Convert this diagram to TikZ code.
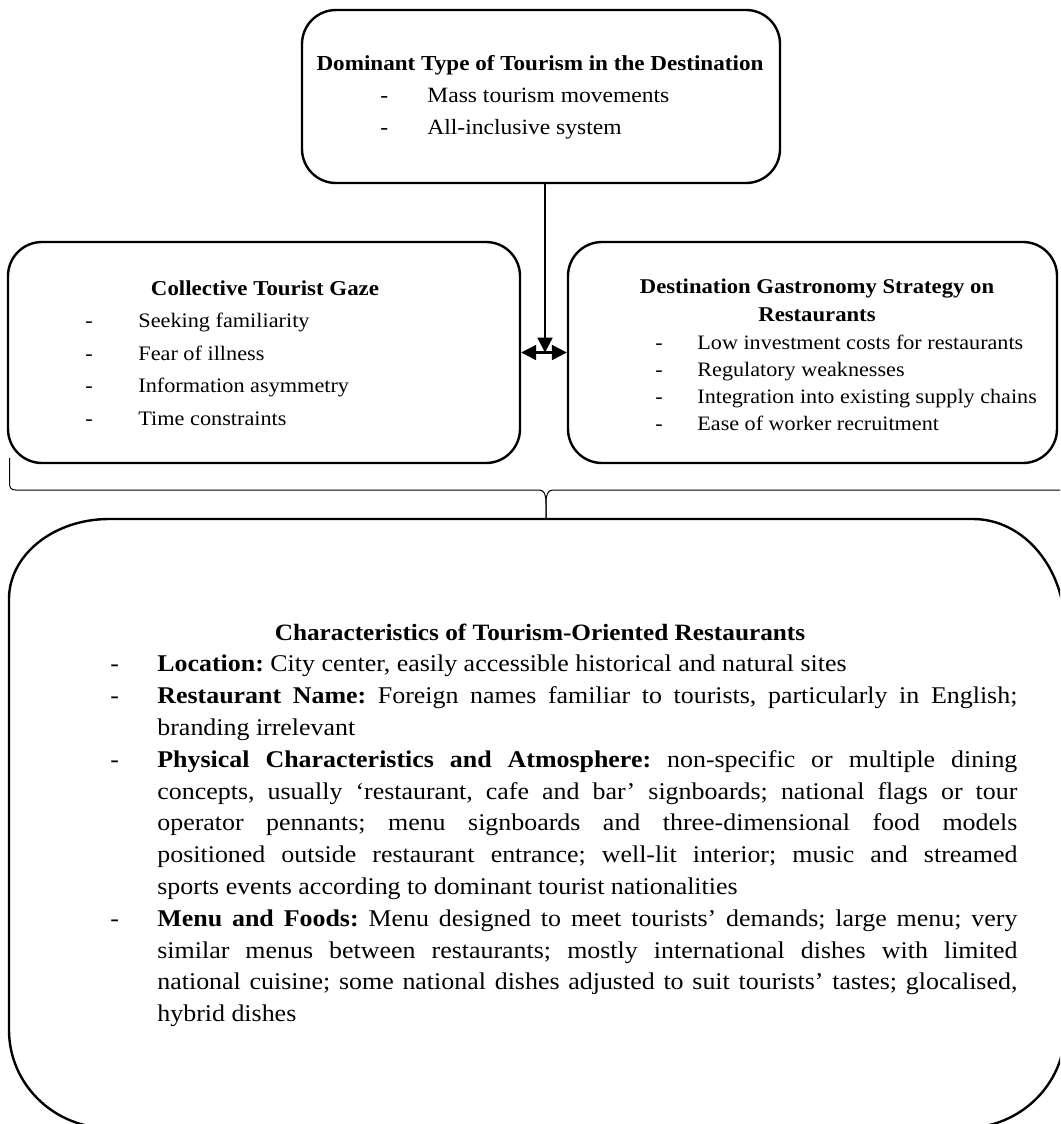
\documentclass[tikz,border=0pt]{standalone}
\usepackage{fontspec}
\setmainfont{Liberation Serif}[FakeStretch=1.08]
\usetikzlibrary{arrows.meta}
\frenchspacing
\newcommand{\fsbody}{\fontsize{12pt}{14pt}\selectfont}
\newcommand{\fsbtitle}{\fontsize{11.7pt}{14pt}\selectfont\bfseries}
\newcommand{\fsttitle}{\fontsize{10.7pt}{13pt}\selectfont\bfseries}
\newcommand{\fstitem}{\fontsize{10.9pt}{13pt}\selectfont}
\newcommand{\fsltitle}{\fontsize{10.6pt}{13pt}\selectfont\bfseries}
\newcommand{\fslitem}{\fontsize{10.3pt}{13pt}\selectfont}
\newcommand{\fsrtitle}{\fontsize{10.5pt}{13pt}\selectfont\bfseries}
\newcommand{\fsritem}{\fontsize{10.25pt}{13pt}\selectfont}
\newcommand{\dashA}[1]{\makebox[23.5pt][l]{-}#1}
\newcommand{\dashB}[1]{\makebox[26.5pt][l]{-}#1}
\newcommand{\dashC}[1]{\makebox[21pt][l]{-}#1}
\newcommand{\jline}[1]{\makebox[430pt][s]{#1}}
\begin{document}
\begin{tikzpicture}[x=0.5pt,y=-0.5pt,
  box/.style={draw, line width=1.2pt, rounded corners=17pt, inner sep=0},
  ln/.style={anchor=base west, inner sep=0},
  ttl/.style={anchor=base, inner sep=0},
  arr/.style={line width=1.2pt, -{Triangle[length=7.5pt,width=7.5pt]}},
  dbl/.style={line width=1.2pt, {Triangle[length=7.5pt,width=7.5pt]}-{Triangle[length=7.5pt,width=7.5pt]}},
  bracestyle/.style={line width=0.5pt},
  bigbox/.style={line width=1.2pt},
]
\useasboundingbox (0,0) rectangle (1060,1124);
\clip (0,0) rectangle (1060,1124);

% boxes
\node[box, minimum width=239pt, minimum height=86.5pt] (top) at (541,96.5) {};
\node[box, minimum width=256pt, minimum height=110.5pt] (gaze) at (264,352.5) {};
\node[box, minimum width=244.5pt, minimum height=110.5pt] (strat) at (812.5,352.5) {};

% bottom box
\draw[bigbox] (109,519) -- (973,519)
  .. controls (1023.8,519) and (1065,568.2) .. (1065,629)
  -- (1065,1030)
  .. controls (1065,1084.1) and (1020.2,1128) .. (965,1128)
  -- (109,1128)
  .. controls (53.8,1128) and (9,1084.1) .. (9,1030)
  -- (9,599)
  .. controls (9,554.8) and (53.8,519) .. (109,519) -- cycle;
\coordinate (btop) at (546,519);

% brace
\draw[bracestyle] (9.5,458) -- (9.5,483) .. controls (9.5,488) and (11,490) .. (16,490)
  -- (539,490) .. controls (544,490) and (546,494) .. (546,503) -- (btop);
\draw[bracestyle] (btop) -- (546,503) .. controls (546,494) and (548,490) .. (553,490)
  -- (1076,490) .. controls (1081,490) and (1082.5,488) .. (1082.5,483) -- (1082.5,458);

% arrows
\coordinate (mid) at (545,352.5);
\draw[arr] (top.south -| mid) -- (mid);
\draw[dbl] (gaze.east) -- (strat.west);

% top box text
\node[ttl, font=\fsttitle] (t0) at (540,70) {Dominant Type of Tourism in the Destination};
\node[ln, font=\fstitem] (t1) at (380,102) {\dashA{Mass tourism movements}};
\node[ln, font=\fstitem] (t2) at (380,134) {\dashA{All-inclusive system}};

% left box text
\node[ttl, font=\fsltitle] (g0) at (265,295) {Collective Tourist Gaze};
\node[ln, font=\fslitem] (g1) at (85,327.5) {\dashB{Seeking familiarity}};
\node[ln, font=\fslitem] (g2) at (85,360) {\dashB{Fear of illness}};
\node[ln, font=\fslitem] (g3) at (85,392.5) {\dashB{Information asymmetry}};
\node[ln, font=\fslitem] (g4) at (85,425) {\dashB{Time constraints}};

% right box text
\node[ttl, font=\fsrtitle] (s0) at (817,293) {Destination Gastronomy Strategy on};
\node[ttl, font=\fsrtitle] (s0b) at (817,321) {Restaurants};
\node[ln, font=\fsritem] (s1) at (655,349) {\dashC{Low investment costs for restaurants}};
\node[ln, font=\fsritem] (s2) at (655,376) {\dashC{Regulatory weaknesses}};
\node[ln, font=\fsritem] (s3) at (655,403) {\dashC{Integration into existing supply chains}};
\node[ln, font=\fsritem] (s4) at (655,430) {\dashC{Ease of worker recruitment}};

% bottom box text
\node[ttl, font=\fsbtitle] (b0) at (540,640) {Characteristics of Tourism-Oriented Restaurants};
\begin{scope}[every node/.append style={font=\fsbody}]
\node[ln] (b1) at (110,671.8) {\dashA{\textbf{Location:} City center, easily accessible historical and natural sites}};
\node[ln] (b2) at (110,703.6) {\dashA{\jline{\textbf{Restaurant Name:} Foreign names familiar to tourists, particularly in English;}}};
\node[ln] (b3) at (157,735.4) {branding irrelevant};
\node[ln] (b4) at (110,767.2) {\dashA{\jline{\textbf{Physical Characteristics and Atmosphere:} non-specific or multiple dining}}};
\node[ln] (b5) at (157,799) {\jline{concepts, usually ‘restaurant, cafe and bar’ signboards; national flags or tour}};
\node[ln] (b6) at (157,830.8) {\jline{operator pennants; menu signboards and three-dimensional food models}};
\node[ln] (b7) at (157,862.6) {\jline{positioned outside restaurant entrance; well-lit interior; music and streamed}};
\node[ln] (b8) at (157,894.4) {sports events according to dominant tourist nationalities};
\node[ln] (b9) at (110,926.2) {\dashA{\jline{\textbf{Menu and Foods:} Menu designed to meet tourists’ demands; large menu; very}}};
\node[ln] (b10) at (157,958) {\jline{similar menus between restaurants; mostly international dishes with limited}};
\node[ln] (b11) at (157,989.8) {\jline{national cuisine; some national dishes adjusted to suit tourists’ tastes; glocalised,}};
\node[ln] (b12) at (157,1021.6) {hybrid dishes};
\end{scope}
\end{tikzpicture}
\end{document}
